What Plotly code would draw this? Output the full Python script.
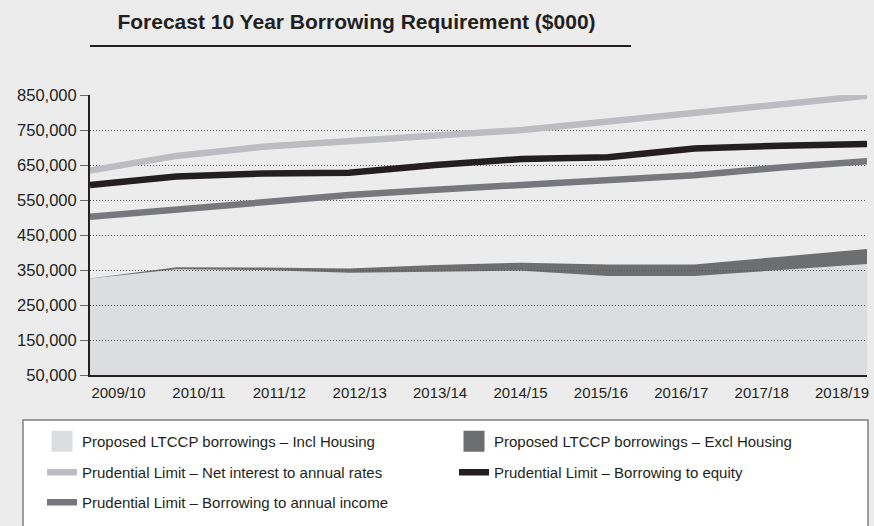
import plotly.graph_objects as go

categories = ['2009/10', '2010/11', '2011/12', '2012/13', '2013/14',
              '2014/15', '2015/16', '2016/17', '2017/18', '2018/19']
incl_housing = [326000, 352000, 350000, 342000, 345000, 348000, 333000, 333000, 350000, 367000]
excl_housing = [326000, 358000, 357000, 354000, 364000, 371000, 366000, 366000, 388000, 410000]
net_interest = [634000, 676000, 702000, 718000, 733000, 750000, 774000, 798000, 824000, 848000]
borrow_equity = [593000, 617000, 626000, 628000, 650000, 667000, 672000, 697000, 705000, 710000]
borrow_income = [502000, 522000, 545000, 564000, 579000, 593000, 607000, 621000, 643000, 661000]

names = ['Proposed LTCCP borrowings – Incl Housing',
         'Proposed LTCCP borrowings – Excl Housing',
         'Prudential Limit – Net interest to annual rates',
         'Prudential Limit – Borrowing to equity',
         'Prudential Limit – Borrowing to annual income']

C_LIGHT_AREA = '#dcdddf'
C_DARK_AREA = '#6d6e70'
C_NET = '#bcbdc0'
C_EQ = '#231f20'
C_INC = '#77787b'
BG = '#ececec'
TXT = '#231f20'
FONT = 'Liberation Sans, Arial, sans-serif'

xs = list(range(len(categories)))
fig = go.Figure()

# areas (lower subplot)
fig.add_trace(go.Scatter(x=xs, y=excl_housing, mode='lines', fill='tozeroy',
                         fillcolor=C_DARK_AREA, line=dict(width=0, color=C_DARK_AREA),
                         showlegend=False, hoverinfo='skip', xaxis='x', yaxis='y'))
fig.add_trace(go.Scatter(x=xs, y=incl_housing, mode='lines', fill='tozeroy',
                         fillcolor=C_LIGHT_AREA, line=dict(width=0, color=C_LIGHT_AREA),
                         showlegend=False, hoverinfo='skip', xaxis='x', yaxis='y'))

# lines (upper subplot, drawn above the dotted gridlines)
for vals, col, nm, lg, rk in [(net_interest, C_NET, names[2], 'legend2', 1),
                              (borrow_income, C_INC, names[4], 'legend3', 1),
                              (borrow_equity, C_EQ, names[3], 'legend2', 2)]:
    fig.add_trace(go.Scatter(x=xs, y=vals, mode='lines', name=nm, legend=lg, legendrank=rk,
                             line=dict(width=6.5, color=col), xaxis='x2', yaxis='y2'))

# legend swatches for the two areas
for col, nm, rk in [(C_LIGHT_AREA, names[0], 1), (C_DARK_AREA, names[1], 2)]:
    fig.add_trace(go.Scatter(x=[None], y=[None], mode='markers', name=nm, legend='legend',
                             legendrank=rk,
                             marker=dict(symbol='square', size=16, color=col,
                                         line=dict(width=5, color=col)),
                             xaxis='x', yaxis='y'))

L, R, T, B = 90, 7, 95, 151
W, H = 874, 526
pw = W - L - R
ph = H - T - B


def px_x(p):
    return (p - L) / pw


def px_y(p):
    return (H - B - p) / ph


step = pw / (len(categories) - 1)
tickpos = [(118.5 - L) / step + i * 80.4 / step for i in range(len(categories))]


def legend_row(top):
    return dict(orientation='h', x=px_x(42), xanchor='left', y=px_y(top), yanchor='top',
                bgcolor='rgba(0,0,0,0)', borderwidth=0, entrywidth=367,
                entrywidthmode='pixels', itemsizing='trace', traceorder='normal',
                font=dict(size=15, color=TXT, family=FONT))


fig.update_layout(
    width=W, height=H,
    margin=dict(l=L, r=R, t=T, b=B, autoexpand=False),
    paper_bgcolor=BG, plot_bgcolor='rgba(0,0,0,0)',
    font=dict(family=FONT, color=TXT, size=15),
    title=dict(text='Forecast 10 Year Borrowing Requirement ($000)',
               x=356.5 / W, xanchor='center', y=1 - 22 / H, yanchor='middle',
               font=dict(family=FONT, size=21, weight='bold', color=TXT)),
    xaxis=dict(range=[0, 9], domain=[0, 1], anchor='y', tickmode='array',
               tickvals=tickpos, ticktext=categories, showgrid=False, zeroline=False,
               showline=True, linecolor=TXT, linewidth=2, ticks='',
               ticklabelstandoff=3, tickfont=dict(size=15, color=TXT)),
    yaxis=dict(range=[50000, 850000], domain=[0, 1], anchor='x', tick0=50000, dtick=100000,
               tickformat=',', showgrid=False, zeroline=False, showline=True,
               linecolor=TXT, linewidth=2, ticks='outside', ticklen=8, tickwidth=1,
               tickcolor='#666', tickfont=dict(size=16.5, color=TXT)),
    xaxis2=dict(range=[0, 9], domain=[0, 1], anchor='y2', visible=False, showgrid=False),
    yaxis2=dict(range=[50000, 850000], domain=[0, 1], anchor='x2', tick0=50000, dtick=100000,
                showgrid=True, gridcolor='#555', gridwidth=1, griddash='1px,2px',
                showticklabels=False, zeroline=False, showline=False, ticks=''),
    legend=legend_row(425),
    legend2=legend_row(456),
    legend3=legend_row(486),
    shapes=[
        dict(type='line', xref='paper', yref='paper', x0=0, x1=px_x(631),
             y0=px_y(46), y1=px_y(46), line=dict(color=TXT, width=2)),
        dict(type='rect', xref='paper', yref='paper', x0=px_x(23), x1=px_x(868),
             y0=px_y(600), y1=px_y(420), fillcolor='white',
             line=dict(color='#808080', width=1.5), layer='below'),
    ],
    showlegend=True,
)

fig.write_html('out.html',
               config={'displayModeBar': False},
               post_script="document.body.style.margin='0px';"
                           "document.body.style.overflow='hidden';")
